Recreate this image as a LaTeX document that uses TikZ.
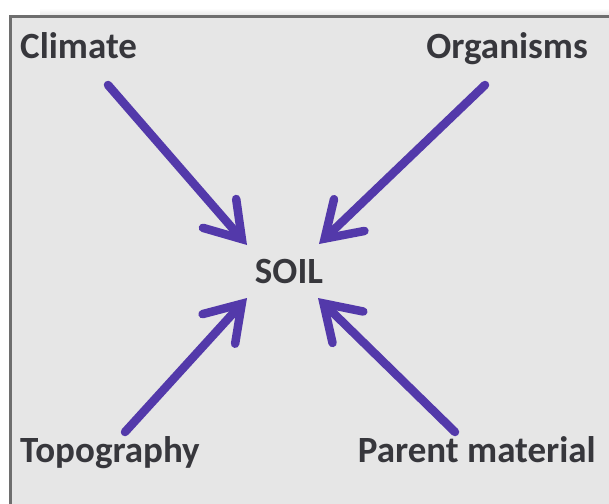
\documentclass[tikz,border=0pt]{standalone}
\usepackage{fontspec}
\setmainfont{Carlito}
\usetikzlibrary{arrows.meta}
\definecolor{arrowpurple}{RGB}{83,57,170}
\definecolor{boxfill}{RGB}{230,230,230}
\definecolor{boxline}{RGB}{110,110,110}
\definecolor{txt}{RGB}{55,55,60}
\tikzset{
  lbl/.style={font=\fontsize{37}{42}\selectfont\bfseries, text=txt, inner sep=0pt},
  arr/.style={draw=arrowpurple, line width=8.5pt, line cap=round,
    -{Straight Barb[length=34pt,width=44pt,line cap=round,line join=miter]}}
}
\begin{document}
\begin{tikzpicture}[x=1pt,y=-1pt]
\useasboundingbox (0,0) rectangle (609,503);
\fill[white] (0,0) rectangle (609,503);
% faint shadow above the frame
\shade[top color=white, bottom color=black!10] (40,8) rectangle (609,16);
\begin{scope}
\clip (0,0) rectangle (609,503);
\filldraw[fill=boxfill, draw=boxline, line width=3pt] (10.5,17) rectangle (640,540);
\end{scope}
% labels
\node[lbl, anchor=base west] (clim) at (20,58) {Climate};
\node[lbl, anchor=base east] (org) at (588,58) {Organisms};
\node[lbl, anchor=base] (soil) at (289,283) {SOIL};
\node[lbl, anchor=base west] (topo) at (20,462) {Topography};
\node[lbl, anchor=base east] (par) at (596,462) {Parent material};
% arrow ends
\coordinate (climtail) at (108,85);
\coordinate (orgtail) at (485,85);
\coordinate (topotail) at (125,432);
\coordinate (partail) at (455,432);
\coordinate (tipnw) at (247,245);
\coordinate (tipne) at (319,244);
\coordinate (tipsw) at (247,298);
\coordinate (tipse) at (318,298);
\draw[arr] (climtail) -- (tipnw);
\draw[arr] (orgtail) -- (tipne);
\draw[arr] (topotail) -- (tipsw);
\draw[arr] (partail) -- (tipse);
\end{tikzpicture}
\end{document}
